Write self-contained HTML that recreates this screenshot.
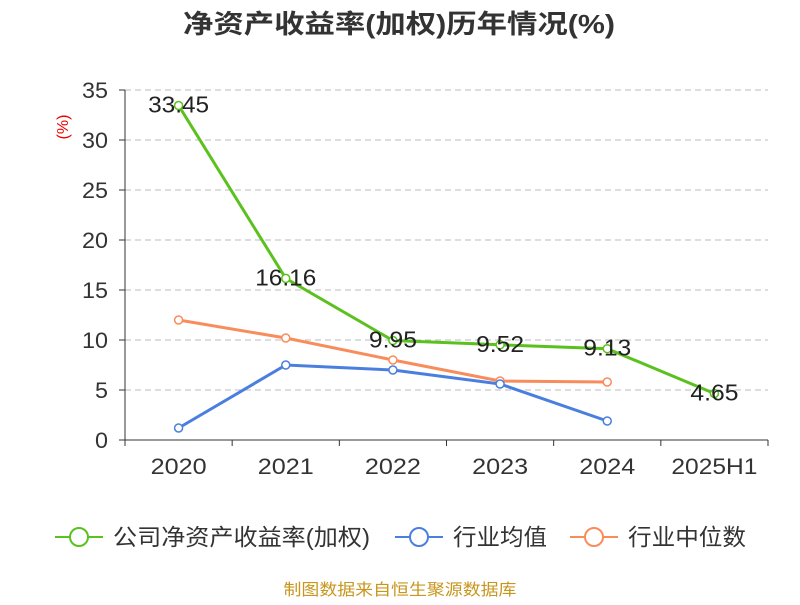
<!DOCTYPE html>
<html><head><meta charset="utf-8"><style>
body{margin:0;background:#fff;font-family:"Liberation Sans","Noto Sans CJK SC",sans-serif;}
</style></head><body>
<svg id="c" width="800" height="600" xmlns="http://www.w3.org/2000/svg">
<text x="399" y="33" text-anchor="middle" font-size="26" font-weight="bold" fill="#333" textLength="432" lengthAdjust="spacingAndGlyphs">净资产收益率(加权)历年情况(%)</text>
<text x="68" y="127" text-anchor="middle" font-size="16" fill="#e00" transform="rotate(-90 68 127)">(%)</text>
<g id="grid"></g><g id="axes"></g><g id="series"></g>
<g id="legend"></g>
<text x="400" y="595" text-anchor="middle" font-size="16" fill="#c8961e" textLength="233" lengthAdjust="spacingAndGlyphs">制图数据来自恒生聚源数据库</text>
</svg>
<script>
const categories=["2020","2021","2022","2023","2024","2025H1"];
const roeValues=[33.45,16.16,9.95,9.52,9.13,4.65];
const industryAvg=[1.2,7.5,7.0,5.6,1.9,null];
const industryMedian=[12.0,10.2,8.0,5.9,5.8,null];
const yTicks=[0,5,10,15,20,25,30,35];
const NS="http://www.w3.org/2000/svg";
const x0=125,x1=768,y0=440,yTop=90,yMax=35;
const step=(x1-x0)/categories.length;
const xs=i=>x0+step*(i+0.5);
const ys=v=>y0-(v/yMax)*(y0-yTop);
function mk(t,a,p){const e=document.createElementNS(NS,t);for(const k in a)e.setAttribute(k,a[k]);p.appendChild(e);return e;}
const grid=document.getElementById('grid'),axes=document.getElementById('axes'),ser=document.getElementById('series'),leg=document.getElementById('legend');
yTicks.forEach(v=>{
 if(v>0){const l=mk('line',{x1:x0,x2:x1,y1:ys(v),y2:ys(v),stroke:'#bbb','stroke-dasharray':'6,4'},grid);
 }
 const s=String(v);
 const t=mk('text',{x:x0-17,y:ys(v)+8,'text-anchor':'end','font-size':22,fill:'#333',textLength:13*s.length,lengthAdjust:'spacingAndGlyphs'},axes);t.textContent=s;
 
 const tk=mk('line',{x1:x0-6,x2:x0,y1:ys(v),y2:ys(v),stroke:'#333'},axes);
 
});
const ya=mk('line',{x1:x0,x2:x0,y1:yTop,y2:y0,stroke:'#333'},axes);
const xa=mk('line',{x1:x0,x2:x1,y1:y0,y2:y0,stroke:'#333'},axes);
for(let i=0;i<=categories.length;i++){const tk=mk('line',{x1:x0+step*i,x2:x0+step*i,y1:y0,y2:y0+6,stroke:'#333'},axes);
 }
categories.forEach((c,i)=>{const t=mk('text',{x:xs(i),y:474,'text-anchor':'middle','font-size':22,fill:'#333',textLength:c.length>4?86:56,lengthAdjust:'spacingAndGlyphs'},axes);t.textContent=c;
 });
function series(vals,color,name,labels){
 const g=mk('g',{},ser);
 const pts=vals.map((v,i)=>v==null?null:[xs(i),ys(v)]).filter(p=>p);
 const pl=mk('polyline',{points:pts.map(p=>p.join(',')).join(' '),fill:'none',stroke:color,'stroke-width':3},g);
 
 vals.forEach((v,i)=>{if(v==null)return;
  const c=mk('circle',{cx:xs(i),cy:ys(v),r:4,fill:'#fff',stroke:color,'stroke-width':1.5},g);
  
  if(labels){const s=v.toFixed(2);const t=mk('text',{x:xs(i),y:ys(v)+7,'text-anchor':'middle','font-size':23,fill:'#222',textLength:s.length>4?61:48,lengthAdjust:'spacingAndGlyphs'},g);t.textContent=s;
   }
 });
}
series(industryMedian,'#f98c5b','industry-median-series',false);
series(industryAvg,'#4a7fdf','industry-average-series',false);
series(roeValues,'#5ac11e','company-roe-series',true);
[["公司净资产收益率(加权)",'#5ac11e',55,257],["行业均值",'#4a7fdf',395,94],["行业中位数",'#f98c5b',570,118]].forEach(([n,c,x,w])=>{
 const g=mk('g',{},leg);
 mk('line',{x1:x,x2:x+48,y1:537,y2:537,stroke:c,'stroke-width':2},g);
 mk('circle',{cx:x+24,cy:537,r:9,fill:'#fff',stroke:c,'stroke-width':2},g);
 const t=mk('text',{x:x+58,y:545,'font-size':23,fill:'#333',textLength:w,lengthAdjust:'spacingAndGlyphs'},g);t.textContent=n;
});
</script>
</body></html>
